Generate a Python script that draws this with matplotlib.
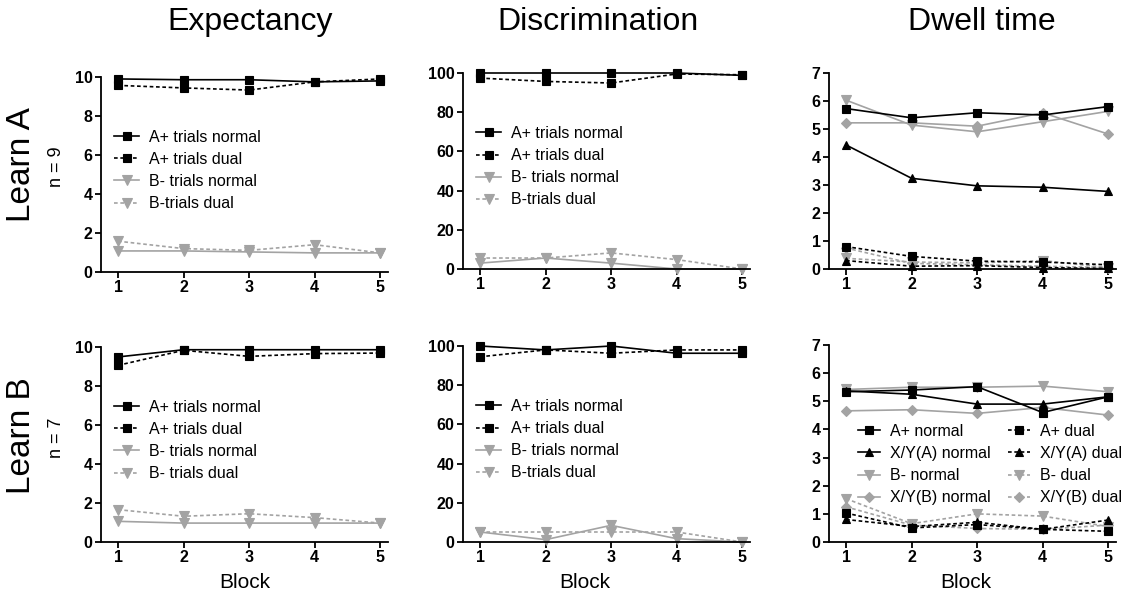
import matplotlib
matplotlib.use("Agg")
import matplotlib.pyplot as plt

plt.rcParams['font.family'] = ['Liberation Sans', 'DejaVu Sans']

blocks = [1, 2, 3, 4, 5]

# ---- Learn A ----
expA_Apos_normal = [9.9, 9.86, 9.86, 9.75, 9.8]
expA_Apos_dual = [9.57, 9.44, 9.33, 9.75, 9.9]
expA_Bneg_normal = [1.08, 1.08, 1.03, 0.98, 0.98]
expA_Bneg_dual = [1.58, 1.2, 1.11, 1.4, 0.98]

disA_Apos_normal = [100, 100, 100, 100, 98.8]
disA_Apos_dual = [97.4, 95.7, 94.9, 99.5, 99.1]
disA_Bneg_normal = [3.0, 5.6, 3.0, 0.0, 0.0]
disA_Bneg_dual = [5.6, 5.6, 8.2, 4.8, 0.0]

dwA_Apos_normal = [5.73, 5.4, 5.58, 5.5, 5.8]
dwA_XYA_normal = [4.43, 3.24, 2.97, 2.92, 2.77]
dwA_Bneg_normal = [6.03, 5.14, 4.9, 5.26, 5.63]
dwA_XYB_normal = [5.22, 5.22, 5.1, 5.58, 4.82]
dwA_Apos_dual = [0.8, 0.45, 0.28, 0.25, 0.15]
dwA_XYA_dual = [0.3, 0.1, 0.12, 0.05, 0.02]
dwA_Bneg_dual = [0.38, 0.25, 0.22, 0.3, 0.05]
dwA_XYB_dual = [0.75, 0.2, 0.15, 0.1, 0.05]

# ---- Learn B ----
expB_Apos_normal = [9.49, 9.86, 9.86, 9.86, 9.86]
expB_Apos_dual = [9.06, 9.83, 9.52, 9.66, 9.69]
expB_Bneg_normal = [1.06, 0.97, 0.97, 0.97, 0.97]
expB_Bneg_dual = [1.66, 1.32, 1.45, 1.25, 0.97]

disB_Apos_normal = [100, 98, 100, 96.3, 96.3]
disB_Apos_dual = [94.5, 98, 96.3, 98, 98]
disB_Bneg_normal = [5.1, 1.2, 8.5, 1.7, 0.0]
disB_Bneg_dual = [5.1, 5.1, 5.1, 5.1, 0.0]

dwB_Apos_normal = [5.34, 5.4, 5.52, 4.6, 5.16]
dwB_XYA_normal = [5.37, 5.25, 4.9, 4.9, 5.16]
dwB_Bneg_normal = [5.42, 5.5, 5.5, 5.54, 5.34]
dwB_XYB_normal = [4.66, 4.7, 4.57, 4.78, 4.51]
dwB_Apos_dual = [1.03, 0.5, 0.62, 0.45, 0.38]
dwB_XYA_dual = [0.8, 0.55, 0.7, 0.45, 0.78]
dwB_Bneg_dual = [1.54, 0.65, 1.0, 0.92, 0.55]
dwB_XYB_dual = [1.25, 0.6, 0.48, 0.45, 0.6]

col_titles = ["Expectancy", "Discrimination", "Dwell time"]
row_titles = ["Learn A", "Learn B"]
row_n = ["n = 9", "n = 7"]

BLACK = "black"
GRAY = "#a3a3a3"
DASH = (0, (2.2, 1.6))

fig = plt.figure(figsize=(11.28, 6.01), dpi=100)

W, H = 1128, 601
def ax_at(x0, y_top, y_bot, width_px):
    return fig.add_axes([x0 / W, 1 - y_bot / H, width_px / W, (y_bot - y_top) / H])

xl = (0.74, 5.12)
pxw = 287

axes = {
    (0, 0): ax_at(101, 77, 272, pxw),
    (0, 1): ax_at(463, 73, 269, pxw),
    (0, 2): ax_at(829, 73, 269, pxw),
    (1, 0): ax_at(101, 347, 542, pxw),
    (1, 1): ax_at(463, 346, 542, pxw),
    (1, 2): ax_at(829, 345, 542, pxw),
}

def style(ax, ylim, yticks):
    ax.set_xlim(*xl)
    ax.set_ylim(*ylim)
    ax.set_xticks(blocks)
    ax.set_yticks(yticks)
    for s in ['top', 'right']:
        ax.spines[s].set_visible(False)
    for s in ['left', 'bottom']:
        ax.spines[s].set_linewidth(1.3)
    ax.tick_params(direction='out', length=4, width=1.3, labelsize=11.5, pad=2)
    for lab in ax.get_xticklabels() + ax.get_yticklabels():
        lab.set_fontweight('bold')
    ax.patch.set_alpha(0)

def line(ax, y, color, ls, marker, ms=6):
    return ax.plot(blocks, y, color=color, linestyle=ls, marker=marker, markersize=ms,
                   linewidth=1.2, clip_on=False, markeredgewidth=0.8,
                   markeredgecolor=color)[0]

leg_kw = dict(loc='upper left', frameon=False, fontsize=11.5, handlelength=1.6,
              handletextpad=0.6, labelspacing=0.45, borderpad=0, borderaxespad=0,
              numpoints=1)

# Expectancy / Discrimination panels
simple = [
    ((0, 0), (expA_Apos_normal, expA_Apos_dual, expA_Bneg_normal, expA_Bneg_dual),
     (0, 10), range(0, 11, 2), "B-trials dual"),
    ((0, 1), (disA_Apos_normal, disA_Apos_dual, disA_Bneg_normal, disA_Bneg_dual),
     (0, 100), range(0, 101, 20), "B-trials dual"),
    ((1, 0), (expB_Apos_normal, expB_Apos_dual, expB_Bneg_normal, expB_Bneg_dual),
     (0, 10), range(0, 11, 2), "B- trials dual"),
    ((1, 1), (disB_Apos_normal, disB_Apos_dual, disB_Bneg_normal, disB_Bneg_dual),
     (0, 100), range(0, 101, 20), "B-trials dual"),
]
for key, (an, ad, bn, bd), ylim, yt, bdlabel in simple:
    ax = axes[key]
    h3 = line(ax, bd, GRAY, DASH, 'v', 6.5)
    h2 = line(ax, bn, GRAY, '-', 'v', 6.5)
    h1 = line(ax, ad, BLACK, DASH, 's', 6)
    h0 = line(ax, an, BLACK, '-', 's', 6)
    style(ax, ylim, list(yt))
    ax.legend([h0, h1, h2, h3],
              ["A+ trials normal", "A+ trials dual", "B- trials normal", bdlabel],
              bbox_to_anchor=(0.045, 0.73), **leg_kw)

# Dwell time panels
dwell = [
    ((0, 2), (dwA_Apos_normal, dwA_XYA_normal, dwA_Bneg_normal, dwA_XYB_normal,
              dwA_Apos_dual, dwA_XYA_dual, dwA_Bneg_dual, dwA_XYB_dual), False),
    ((1, 2), (dwB_Apos_normal, dwB_XYA_normal, dwB_Bneg_normal, dwB_XYB_normal,
              dwB_Apos_dual, dwB_XYA_dual, dwB_Bneg_dual, dwB_XYB_dual), True),
]
labels_dw = ["A+ normal", "X/Y(A) normal", "B- normal", "X/Y(B) normal",
             "A+ dual", "X/Y(A) dual", "B- dual", "X/Y(B) dual"]
specs = [(BLACK, '-', 's', 6), (BLACK, '-', '^', 6), (GRAY, '-', 'v', 6.5), (GRAY, '-', 'D', 5.5),
         (BLACK, DASH, 's', 6), (BLACK, DASH, '^', 6), (GRAY, DASH, 'v', 6.5), (GRAY, DASH, 'D', 5.5)]
for key, series, has_leg in dwell:
    ax = axes[key]
    hs = [None] * 8
    order = [7, 6, 3, 2, 4, 5, 1, 0]
    for i in order:
        c, ls, m, ms = specs[i]
        hs[i] = line(ax, series[i], c, ls, m, ms)
    style(ax, (0, 7), list(range(0, 8)))
    if has_leg:
        ax.legend(hs, labels_dw, ncol=2, columnspacing=1.1,
                  bbox_to_anchor=(0.10, 0.60),
                  **{**leg_kw, 'handlelength': 1.4})

# Column titles
for x, t in zip([250, 598, 982], col_titles):
    fig.text(x / W, 1 - 22 / H, t, ha='center', va='center', fontsize=23)

# Block labels
for x in [245, 585, 966]:
    fig.text(x / W, 1 - 583 / H, "Block", ha='center', va='center', fontsize=15)

# Row labels
for yc, t, n in zip([165, 436], row_titles, row_n):
    fig.text(22 / W, 1 - yc / H, t, rotation=90, ha='center', va='center', fontsize=24)
    fig.text(57 / W, 1 - (yc + 2) / H, n, rotation=90, ha='center', va='center', fontsize=13)

fig.savefig("out.png", dpi=100)
